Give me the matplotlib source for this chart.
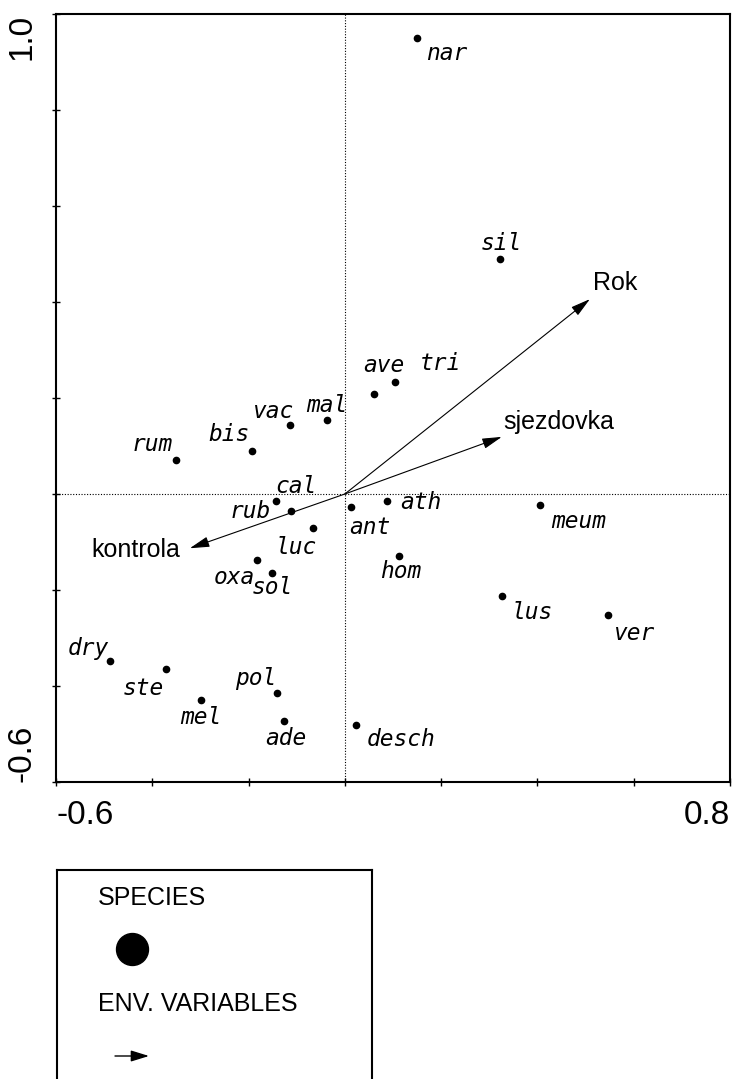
"""
CCA ordination diagram: species scores and environmental variable arrows
"""

import matplotlib
matplotlib.use('Agg')
import matplotlib.pyplot as plt

# --- species scores ---
species = ['nar', 'sil', 'ave', 'tri', 'mal', 'vac', 'bis', 'rum', 'cal',
           'rub', 'luc', 'oxa', 'sol', 'ath', 'ant', 'meum', 'hom', 'lus',
           'ver', 'desch', 'dry', 'ste', 'mel', 'pol', 'ade']
sp_x = [0.150, 0.322, 0.060, 0.104, -0.038, -0.114, -0.193, -0.351, -0.143,
        -0.112, -0.066, -0.182, -0.151, 0.088, 0.012, 0.405, 0.113, 0.326,
        0.547, 0.023, -0.488, -0.372, -0.299, -0.141, -0.127]
sp_y = [0.950, 0.490, 0.208, 0.233, 0.154, 0.143, 0.090, 0.071, -0.014,
        -0.036, -0.071, -0.137, -0.164, -0.014, -0.027, -0.023, -0.129, -0.212,
        -0.253, -0.481, -0.348, -0.365, -0.429, -0.415, -0.472]

# --- environmental variables ---
env_names = ['Rok', 'sjezdovka', 'kontrola']
env_x = [0.509, 0.326, -0.322]
env_y = [0.406, 0.119, -0.113]

# axis ticks
x_ticks = [-0.6, -0.4, -0.2, 0.0, 0.2, 0.4, 0.6, 0.8]
y_ticks = [-0.6, -0.4, -0.2, 0.0, 0.2, 0.4, 0.6, 0.8, 1.0]

# label offsets in pixels (left edge / vertical centre of label relative to point)
sp_offsets = {
    'nar': (9, -15), 'sil': (-19, 15), 'ave': (-11, 29), 'tri': (25, 19),
    'mal': (-20, 15), 'vac': (-37, 14), 'bis': (-44, 16), 'rum': (-44, 15),
    'cal': (-1, 14), 'rub': (-61, 0), 'luc': (-38, -19), 'oxa': (-44, -18),
    'sol': (-20, -15), 'ath': (13, -2), 'ant': (-1, -21), 'meum': (11, -16),
    'hom': (-19, -16), 'lus': (10, -17), 'ver': (6, -18), 'desch': (11, -15),
    'dry': (-42, 13), 'ste': (-43, -19), 'mel': (-21, -18), 'pol': (-42, 15),
    'ade': (-19, -18),
}
env_offsets = {'Rok': (3, 16, 'left'), 'sjezdovka': (1, 15, 'left'),
               'kontrola': (-10, -2, 'right')}

W, H = 732, 1079
fig = plt.figure(figsize=(W / 100, H / 100), dpi=100)
ax = fig.add_axes([56 / W, 297 / H, 674 / W, 768 / H])

sans = ['Liberation Sans', 'DejaVu Sans']
mono = 'DejaVu Sans Mono'

# zero lines
ax.axhline(0, color='k', lw=0.8, ls=(0, (1, 1.5)), zorder=1)
ax.axvline(0, color='k', lw=0.8, ls=(0, (1, 1.5)), zorder=1)

# species points + labels
ax.plot(sp_x, sp_y, 'o', color='k', markersize=4.5, zorder=3)
for name, x, y in zip(species, sp_x, sp_y):
    dx, dy = sp_offsets[name]
    ax.annotate(name, (x, y), xytext=(dx, dy), textcoords='offset pixels',
                ha='left', va='center', fontsize=16.5, family=mono,
                style='oblique', color='k')

# environmental arrows
for name, x, y in zip(env_names, env_x, env_y):
    ax.annotate('', xy=(x, y), xytext=(0, 0),
                arrowprops=dict(arrowstyle='-|>,head_length=0.6,head_width=0.16',
                                mutation_scale=20, lw=0.8, color='k',
                                shrinkA=0, shrinkB=0))
    dx, dy, ha = env_offsets[name]
    ax.annotate(name, (x, y), xytext=(dx, dy), textcoords='offset pixels',
                ha=ha, va='center', fontsize=18, family=sans, color='k')

ax.set_xlim(-0.6, 0.8)
ax.set_ylim(-0.6, 1.0)

ax.set_xticks(x_ticks)
ax.set_xticklabels(['-0.6', '', '', '', '', '', '', '0.8'])
ax.set_yticks(y_ticks)
ax.set_yticklabels(['-0.6', '', '', '', '', '', '', '', '1.0'], rotation=90)
ax.tick_params(direction='inout', length=6, width=1, labelsize=24, pad=10)
for lab in ax.get_xticklabels() + ax.get_yticklabels():
    lab.set_family(sans)
xl = ax.get_xticklabels()
xl[0].set_ha('left')
xl[-1].set_ha('right')
yl = ax.get_yticklabels()
yl[0].set_va('bottom')
yl[-1].set_va('top')
for sp in ax.spines.values():
    sp.set_linewidth(1.5)

# --- legend box ---
lg = fig.add_axes([57 / W, -10 / H, 315 / W, 219 / H])
lg.set_xlim(57, 372)
lg.set_ylim(1089, 870)
lg.set_xticks([])
lg.set_yticks([])
for sp in lg.spines.values():
    sp.set_linewidth(1.5)
lg.text(98, 898, 'SPECIES', fontsize=18, family=sans, va='center', ha='left')
lg.plot([132], [949], 'o', color='k', markersize=23)
lg.text(98, 1004, 'ENV. VARIABLES', fontsize=18, family=sans, va='center', ha='left')
lg.annotate('', xy=(149, 1056), xytext=(115, 1056),
            arrowprops=dict(arrowstyle='-|>,head_length=0.55,head_width=0.17',
                            mutation_scale=20, lw=1.0, color='k',
                            shrinkA=0, shrinkB=0))

fig.savefig('out.png', dpi=100)
